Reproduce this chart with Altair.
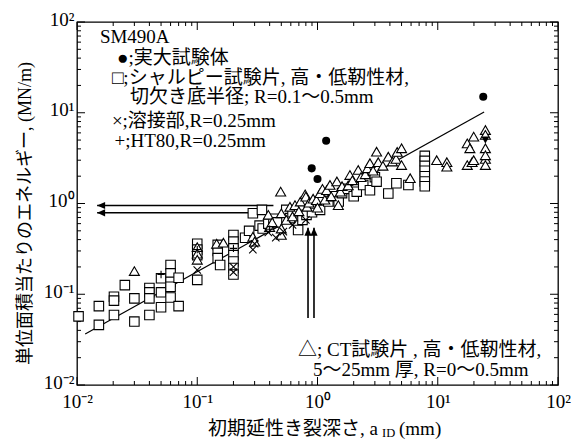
import altair as alt
import pandas as pd

# ---------------- data ----------------
# Charpy specimens (open squares)
CHARPY_X = [0.0103, 0.0152, 0.0152, 0.0203, 0.0203, 0.0203, 0.025, 0.030, 0.030,
            0.040, 0.040, 0.040, 0.040, 0.050, 0.050, 0.050,
            0.060, 0.060, 0.060, 0.060, 0.060, 0.070, 0.070,
            0.10, 0.10, 0.10, 0.10, 0.148, 0.148, 0.148, 0.155,
            0.20, 0.20, 0.20, 0.20, 0.20, 0.20, 0.20,
            0.25, 0.27, 0.29, 0.345, 0.33, 0.35, 0.39, 0.43, 0.46, 0.55, 0.59, 0.62,
            0.69, 0.75, 0.81, 0.90, 0.95, 1.05, 1.10, 1.23, 1.35, 1.50, 1.60, 1.75,
            2.0, 2.12, 2.4, 2.73, 3.0, 3.1, 3.88, 4.53, 5.7,
            7.8, 7.8, 7.8, 7.8, 7.8, 7.8, 7.8]
CHARPY_Y = [0.057, 0.074, 0.046, 0.094, 0.085, 0.059, 0.126, 0.090, 0.050,
            0.117, 0.105, 0.090, 0.059, 0.150, 0.105, 0.072,
            0.21, 0.17, 0.137, 0.121, 0.092, 0.152, 0.074,
            0.36, 0.31, 0.27, 0.144, 0.35, 0.30, 0.25, 0.21,
            0.45, 0.38, 0.32, 0.27, 0.23, 0.195, 0.165,
            0.42, 0.50, 0.78, 0.85, 0.57, 0.53, 0.60, 0.68, 0.62, 0.85, 0.69, 0.80,
            0.51, 0.66, 0.75, 0.80, 1.00, 0.85, 1.15, 1.05, 1.20, 1.05, 1.30, 1.45,
            1.20, 1.35, 1.60, 1.40, 1.95, 1.74, 1.29, 1.67, 1.60,
            3.35, 2.95, 2.6, 2.3, 2.0, 1.75, 1.55]

# CT specimens (open triangles)
CT_X = [0.03, 0.10, 0.10, 0.10, 0.145, 0.165, 0.29, 0.30, 0.39, 0.40, 0.42, 0.494,
        0.50, 0.50, 0.50, 0.55, 0.59, 0.62, 0.65, 0.70, 0.72, 0.79, 0.80, 0.82, 0.85,
        0.92, 0.98, 1.0, 1.05, 1.10, 1.15, 1.19, 1.27, 1.30, 1.45, 1.49, 1.55, 1.60,
        1.80, 1.86, 1.95, 2.18, 2.3, 2.5, 2.6, 2.73, 2.9, 3.1, 3.2, 3.5, 3.88, 4.2,
        4.5, 4.6, 5.0, 5.0, 5.9,
        9.8, 11.9, 11.9, 17.6, 17.6, 18.5, 19.3, 19.9, 19.9, 24.9, 24.9, 24.9, 24.9,
        24.9, 24.9]
CT_Y = [0.18, 0.33, 0.28, 0.24, 0.36, 0.37, 0.43, 0.38, 0.75, 0.55, 0.62, 1.35,
        0.78, 0.45, 0.53, 0.66, 0.92, 0.72, 0.96, 0.82, 1.05, 1.26, 1.19, 0.92, 1.02,
        1.13, 1.09, 0.90, 1.30, 1.45, 1.10, 1.40, 1.60, 1.20, 1.75, 0.96, 1.35, 1.55,
        1.58, 2.06, 1.80, 2.34, 1.95, 2.10, 2.44, 2.78, 2.30, 3.72, 2.85, 2.60, 3.28, 2.90,
        3.10, 3.70, 4.06, 2.65, 1.90,
        3.0, 2.85, 2.55, 4.6, 2.65, 4.06, 2.85, 5.45, 3.0, 6.45, 5.7, 4.06, 3.1,
        2.65, 3.4]

# Weld metal (x)
WELD_X = [0.10, 0.20, 0.20, 0.29, 0.30, 0.39, 0.45, 0.52, 0.62, 0.80]
WELD_Y = [0.185, 0.175, 0.20, 0.31, 0.36, 0.48, 0.42, 0.49, 0.58, 0.66]

# HT80 (+)
HT80_X = [0.05, 0.10, 0.20, 0.40]
HT80_Y = [0.165, 0.31, 0.32, 0.52]

# Full-scale specimens (filled circles)
FULL_X = [0.895, 1.0, 1.18, 23.9]
FULL_Y = [2.44, 1.86, 4.92, 15.0]
FULL_TRI_X = [24.9]
FULL_TRI_Y = [5.0]

# Regression line
LINE_X = [0.0117, 24.3]
LINE_Y = [0.0365, 10.2]

# Arrows
HARROW_Y = [0.95, 0.79]
HARROW_FROM = [0.43, 0.29]
HARROW_TO = [0.0147, 0.0147]
VARROW_X = [0.834, 0.935]
VARROW_FROM = [0.0547, 0.0547]
VARROW_TO = [0.54, 0.54]

# Tick labels
DECADES = [0.01, 0.1, 1, 10, 100]
TICK_LABELS = ["10⁻²", "10⁻¹", "10⁰", "10¹", "10²"]

# Texts
Y_TITLE = "単位面積当たりのエネルギー, (MN/m)"
X_TITLE_MAIN = "初期延性き裂深さ, a"
X_TITLE_SUB = "ID"
X_TITLE_UNIT = "(mm)"
LEGEND_TEXT = ["SM490A", "●;実大試験体", "□;シャルピー試験片, 高・低靭性材,",
               "切欠き底半径; R=0.1〜0.5mm", "×;溶接部,R=0.25mm", "+;HT80,R=0.25mm"]
LEGEND_X = [0.0155, 0.0215, 0.0195, 0.0276, 0.0195, 0.0205]
LEGEND_Y = [68.0, 40.0, 24.2, 14.9, 8.2, 4.85]
CT_TEXT = ["△; CT試験片 , 高・低靭性材,", "5〜25mm 厚, R=0〜0.5mm"]
CT_TEXT_X = [0.689, 0.917]
CT_TEXT_Y = [0.0243, 0.01466]

# ---------------- chart ----------------
W, H = 481, 363
FONT = "Liberation Serif, Noto Sans CJK JP, serif"
TXT = 19
xs = alt.Scale(type="log", domain=[0.01, 100], nice=False)
ys = alt.Scale(type="log", domain=[0.01, 100], nice=False)

def lab_expr():
    e = "round(log(datum.value)/LN10)"
    expr = "'%s'" % TICK_LABELS[-1]
    for k in range(len(TICK_LABELS) - 2, -1, -1):
        expr = "%s == %d ? '%s' : (%s)" % (e, k - 2, TICK_LABELS[k], expr)
    return expr

xaxis = alt.Axis(values=DECADES, labelExpr=lab_expr(), ticks=False, domain=False, grid=False,
                 labelFont=FONT, labelFontSize=19, labelPadding=7, labelFlush=False,
                 labelOverlap=False, labelColor="black", title=None)
yaxis = alt.Axis(values=DECADES, labelExpr=lab_expr(), ticks=False, domain=False, grid=False,
                 labelFont=FONT, labelFontSize=19, labelPadding=3, labelFlush=False,
                 labelOverlap=False, labelColor="black", labelBaseline="middle",
                 labelOffset=-3,
                 title=Y_TITLE, titleFont=FONT, titleFontSize=18, titleFontWeight="normal",
                 titleColor="black", titleX=-52, titleY=191, titleBaseline="middle",
                 titleAlign="center", titleAngle=-90)

charpy = pd.DataFrame({"x": CHARPY_X, "y": CHARPY_Y})
ct = pd.DataFrame({"x": CT_X, "y": CT_Y})
weld = pd.DataFrame({"x": WELD_X, "y": WELD_Y})
ht80 = pd.DataFrame({"x": HT80_X, "y": HT80_Y})
full = pd.DataFrame({"x": FULL_X, "y": FULL_Y})
fulltri = pd.DataFrame({"x": FULL_TRI_X, "y": FULL_TRI_Y})
line = pd.DataFrame({"x": LINE_X, "y": LINE_Y})
harrow = pd.DataFrame({"y": HARROW_Y, "x1": HARROW_FROM, "x2": HARROW_TO})
varrow = pd.DataFrame({"x": VARROW_X, "y1": VARROW_FROM, "y2": VARROW_TO})
legend = pd.DataFrame({"x": LEGEND_X, "y": LEGEND_Y, "t": LEGEND_TEXT})
cttext = pd.DataFrame({"x": CT_TEXT_X, "y": CT_TEXT_Y, "t": CT_TEXT})

minor = [m * 10.0 ** e for e in range(-2, 2) for m in range(2, 10)]
xt_major = pd.DataFrame({"v": DECADES})
xt_minor = pd.DataFrame({"v": minor})

X = lambda f="x": alt.X(f"{f}:Q", scale=xs, axis=xaxis)
Y = lambda f="y": alt.Y(f"{f}:Q", scale=ys, axis=yaxis)

# inward ticks on all four sides
def tick_layers(df, L):
    return [
        alt.Chart(df).mark_rule(color="black", strokeWidth=1).encode(
            x=X("v"), y=alt.value(H), y2=alt.value(H - L)),
        alt.Chart(df).mark_rule(color="black", strokeWidth=1).encode(
            x=X("v"), y=alt.value(0), y2=alt.value(L)),
        alt.Chart(df).mark_rule(color="black", strokeWidth=1).encode(
            y=Y("v"), x=alt.value(0), x2=alt.value(L)),
        alt.Chart(df).mark_rule(color="black", strokeWidth=1).encode(
            y=Y("v"), x=alt.value(W), x2=alt.value(W - L)),
    ]

reg = alt.Chart(line).mark_line(color="black", strokeWidth=1.2).encode(x=X(), y=Y())

pt_sq = alt.Chart(charpy).mark_point(shape="square", filled=True, fill="white", stroke="black",
                                     strokeWidth=1.1, size=90, opacity=1).encode(x=X(), y=Y())
pt_tri = alt.Chart(ct).mark_point(shape="triangle-up", filled=True, fill="white", stroke="black",
                                  strokeWidth=1.1, size=100, opacity=1).encode(x=X(), y=Y())
pt_x = alt.Chart(weld).mark_point(shape="M-1,-1L1,1M-1,1L1,-1", filled=False, stroke="black",
                                  strokeWidth=1.1, size=55, opacity=1).encode(x=X(), y=Y())
pt_plus = alt.Chart(ht80).mark_point(shape="M-1,0L1,0M0,-1L0,1", filled=False, stroke="black",
                                     strokeWidth=1.1, size=55, opacity=1).encode(x=X(), y=Y())
pt_full = alt.Chart(full).mark_point(shape="circle", filled=True, color="black", size=65,
                                     opacity=1).encode(x=X(), y=Y())
pt_fulltri = alt.Chart(fulltri).mark_point(shape="triangle-down", filled=True, color="black",
                                           size=65, opacity=1).encode(x=X(), y=Y())

h_lines = alt.Chart(harrow).mark_rule(color="black", strokeWidth=1.6).encode(
    x=X("x1"), x2="x2:Q", y=Y("y"))
h_heads = alt.Chart(harrow).mark_point(shape="M0,0L1,-0.45L1,0.45Z", filled=True, color="black",
                                       size=256, opacity=1).encode(x=X("x2"), y=Y("y"))
v_lines = alt.Chart(varrow).mark_rule(color="black", strokeWidth=1.6).encode(
    x=X("x"), y=Y("y1"), y2="y2:Q")
v_heads = alt.Chart(varrow).mark_point(shape="M0,0L-0.45,1L0.45,1Z", filled=True, color="black",
                                       size=256, opacity=1).encode(x=X("x"), y=Y("y2"))

leg_text = alt.Chart(legend).mark_text(align="left", baseline="middle", font=FONT,
                                       fontSize=TXT, color="black").encode(
    x=X(), y=Y(), text="t:N")
ct_text = alt.Chart(cttext).mark_text(align="left", baseline="middle", font=FONT,
                                      fontSize=TXT, color="black").encode(
    x=X(), y=Y(), text="t:N")

title_df = pd.DataFrame({"t": [X_TITLE_MAIN]})
xt_main = alt.Chart(title_df).mark_text(align="right", baseline="middle", font=FONT,
                                        fontSize=19, color="black").encode(
    x=alt.value(301), y=alt.value(407), text="t:N")
xt_sub = alt.Chart(pd.DataFrame({"t": [X_TITLE_SUB]})).mark_text(
    align="left", baseline="middle", font=FONT, fontSize=12.5, color="black").encode(
    x=alt.value(305), y=alt.value(411), text="t:N")
xt_unit = alt.Chart(pd.DataFrame({"t": [X_TITLE_UNIT]})).mark_text(
    align="left", baseline="middle", font=FONT, fontSize=19, color="black").encode(
    x=alt.value(322), y=alt.value(407), text="t:N")

layers = (tick_layers(xt_minor, 4) + tick_layers(xt_major, 8) +
          [reg, h_lines, h_heads, v_lines, v_heads,
           pt_sq, pt_tri, pt_x, pt_plus, pt_full, pt_fulltri,
           leg_text, ct_text, xt_main, xt_sub, xt_unit])

chart = alt.layer(*layers).properties(
    width=W, height=H,
    autosize=alt.AutoSizeParams(type="none"),
    padding={"left": 77, "top": 22, "right": 21, "bottom": 56},
    background="white",
).configure_view(stroke="black", strokeWidth=1.3)

chart.save("out.html", embed_options={"renderer": "svg", "actions": False})
